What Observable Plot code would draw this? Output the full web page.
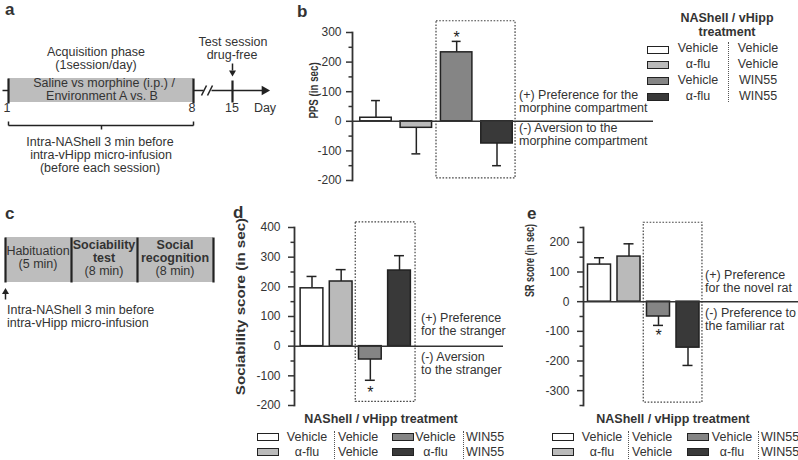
<!DOCTYPE html>
<html><head><meta charset="utf-8">
<script src="https://cdn.jsdelivr.net/npm/d3@7"></script>
<script src="https://cdn.jsdelivr.net/npm/@observablehq/plot@0.6"></script>
<style>
html,body{margin:0;padding:0;background:#fff;}
#fig{position:relative;width:798px;height:460px;overflow:hidden;font-family:"Liberation Sans",Arial,Helvetica,sans-serif;color:#333;}
#fig .t{position:absolute;white-space:nowrap;line-height:1;}
#fig .p{position:absolute;}
#fig .sw{position:absolute;box-sizing:border-box;border:1.5px solid #222;}
#fig .sep{position:absolute;width:0;border-left:1.3px dotted #555;}
</style></head><body><div id="fig"></div>
<script>
// ---------- data ----------
const nashell = ["Vehicle", "α-flu", "Vehicle", "α-flu"];
const vhipp = ["Vehicle", "Vehicle", "WIN55", "WIN55"];
const groupFill = ["#ffffff", "#bababa", "#858585", "#393939"];

// b: place preference score (PPS, sec)
const ppsMean = [12, -22, 233, -75];
const ppsErr = [70, -110, 270, -150];
const ppsSig = [false, false, true, false];
const ppsTicks = [-200, -100, 0, 100, 200, 300];

// d: sociability score (sec)
const socMean = [195, 218, -45, 255];
const socErr = [235, 258, -115, 305];
const socSig = [false, false, true, false];
const socTicks = [-200, -100, 0, 100, 200, 300, 400];

// e: social recognition score (sec)
const srMean = [125, 152, -50, -155];
const srErr = [148, 195, -80, -215];
const srSig = [false, false, true, false];
const srTicks = [-300, -200, -100, 0, 100, 200];

const FONT = '"Liberation Sans", Arial, Helvetica, sans-serif';
const fig = document.getElementById("fig");

function T(x, base, str, o = {}) {
  const s = o.s || 12.5;
  const el = document.createElement("div");
  el.className = "t";
  el.textContent = str;
  el.style.fontSize = s + "px";
  el.style.fontWeight = o.w || "normal";
  el.style.left = x + "px";
  el.style.top = (base - 0.847 * s) + "px";
  if (o.a === "middle") el.style.transform = "translateX(-50%)";
  else if (o.a === "end") el.style.transform = "translateX(-100%)";
  fig.appendChild(el);
}
function place(node, left, top) {
  node.classList.add("p");
  node.style.left = left + "px";
  node.style.top = top + "px";
  fig.appendChild(node);
}
function div(cls, left, top, w, h, bg) {
  const el = document.createElement("div");
  el.className = cls;
  el.style.left = left + "px"; el.style.top = top + "px";
  if (w != null) el.style.width = w + "px";
  el.style.height = h + "px";
  if (bg) el.style.background = bg;
  fig.appendChild(el);
}

// ---------- bar charts ----------
function barChart(o) {
  const data = o.mean.map((m, k) => ({k: k + 1, m, e: o.err[k], fill: groupFill[k], sig: o.sig[k]}));
  const minor = d3.range(o.yd[0], o.yd[1] + 1, 50).filter(v => v % 100 !== 0);
  const hw = 0.39;
  const svg = Plot.plot({
    width: o.width, height: o.height,
    marginLeft: o.ml, marginRight: 0, marginTop: o.mt, marginBottom: o.mb,
    x: {domain: [1, 4], range: o.xr, axis: null},
    y: {domain: o.yd},
    color: {type: "identity"},
    style: {fontFamily: FONT, fontSize: "12px", color: "#333", background: "transparent", overflow: "visible"},
    marks: [
      Plot.rect([o.box], {x1: "x1", x2: "x2", y1: "y1", y2: "y2", fill: "none", stroke: "#444", strokeWidth: 1.2, strokeDasharray: "1.6,1.6"}),
      Plot.axisY({ticks: minor, tickSize: 3.5, tickFormat: () => "", label: null, strokeWidth: 1.5}),
      Plot.axisY({ticks: o.ticks, tickSize: 6, tickPadding: o.pad, tickFormat: d => String(d), label: null, strokeWidth: 1.5, fontSize: 12}),
      Plot.frame({anchor: "left", stroke: "#333", strokeWidth: 1.8}),
      Plot.ruleX(data, {x: "k", y1: "m", y2: "e", stroke: "#222", strokeWidth: 1.5}),
      Plot.ruleY(data, {y: "e", x1: d => d.k - o.cap, x2: d => d.k + o.cap, stroke: "#222", strokeWidth: 1.5}),
      Plot.rect(data, {x1: d => d.k - hw, x2: d => d.k + hw, y1: 0, y2: "m", fill: "fill", stroke: "#222", strokeWidth: 1.5}),
      Plot.ruleY([0], {stroke: "#333", strokeWidth: 1.5}),
      Plot.text(data.filter(d => d.sig && d.e > 0), {x: "k", y: "e", text: () => "*", dy: -4, fontSize: 16, fill: "#222"}),
      Plot.text(data.filter(d => d.sig && d.e < 0), {x: "k", y: "e", text: () => "*", dy: o.sdy, fontSize: 16, fill: "#222"}),
      Plot.text([o.label], {text: d => d, frameAnchor: "left", textAnchor: "middle", rotate: -90, dx: o.ldx, dy: o.ldy, fontWeight: "bold", fontSize: o.lfs, fill: "#333"})
    ]
  });
  // stretch / condense the rotated axis title along its length to match the source panel proportions
  svg.querySelectorAll("text").forEach(t => {
    if (t.textContent === o.label) {
      const tr = t.getAttribute("transform") || "";
      t.setAttribute("transform", tr + ` scale(${o.lsx},1)`);
    }
  });
  return svg;
}

place(barChart({mean: ppsMean, err: ppsErr, sig: ppsSig, ticks: ppsTicks, yd: [-200, 300],
  width: 373, height: 200, ml: 72, mt: 32, mb: 20, xr: [95.5, 216.5], pad: 5, cap: 0.11, sdy: 12,
  box: {x1: 2.5, x2: 4.46, y1: -193, y2: 338},
  label: "PPS (in sec)", ldx: -39, ldy: -16, lfs: 12.5, lsx: 0.78}), 280, 0);

place(barChart({mean: socMean, err: socErr, sig: socSig, ticks: socTicks, yd: [-200, 400],
  width: 278, height: 215, ml: 69, mt: 27, mb: 10, xr: [86.5, 174], pad: 8, cap: 0.17, sdy: 13,
  box: {x1: 2.5, x2: 4.55, y1: -188, y2: 417},
  label: "Sociability score (in sec)", ldx: -54, ldy: -10, lfs: 13.5, lsx: 1.12}), 225, 200);

place(barChart({mean: srMean, err: srErr, sig: srSig, ticks: srTicks, yd: [-350, 250],
  width: 283, height: 215, ml: 68, mt: 27, mb: 10, xr: [84, 172.5], pad: 8, cap: 0.17, sdy: 10,
  box: {x1: 2.5, x2: 4.49, y1: -340, y2: 266},
  label: "SR score (in sec)", ldx: -54, ldy: -56, lfs: 12.5, lsx: 0.72}), 515, 200);

// ---------- schematics (a, c) ----------
const aRects = [{x1: 8, x2: 193, y1: 78, y2: 102, fill: "#bdbdbd"}];
const aLines = [
  {x1: 2, y1: 90, x2: 8, y2: 90}, {x1: 193, y1: 90, x2: 203, y2: 90}, {x1: 211, y1: 90, x2: 262, y2: 90},
  {x1: 201, y1: 95, x2: 206, y2: 85}, {x1: 207, y1: 95, x2: 212, y2: 85},
  {x1: 232, y1: 63, x2: 232, y2: 70},
  {x1: 8, y1: 125, x2: 193, y2: 125}, {x1: 8, y1: 121, x2: 8, y2: 125}, {x1: 193, y1: 121, x2: 193, y2: 125},
  {x1: 101, y1: 125, x2: 101, y2: 129}
];
const aThick = [{x1: 8, y1: 78, x2: 8, y2: 103}, {x1: 193, y1: 78, x2: 193, y2: 103}, {x1: 232, y1: 80, x2: 232, y2: 102}];
const aHeads = [{x: 264, y: 90, rot: 90, r: 3.6}, {x: 232, y: 72, rot: 180, r: 2.6}];

const cRects = [{x1: 5, x2: 213, y1: 237, y2: 282, fill: "#bdbdbd"}];
const cLines = [{x1: 5, y1: 292, x2: 5, y2: 299}];
const cThick = [71, 137, 5, 213].map(x => ({x1: x, y1: 237, x2: x, y2: 282}));
const cHeads = [{x: 5, y: 291.5, rot: 0, r: 2.6}];

function schematic(o) {
  return Plot.plot({
    width: o.w, height: o.h, margin: 0,
    x: {domain: [o.left, o.left + o.w], range: [0, o.w], axis: null},
    y: {domain: [o.top, o.top + o.h], range: [0, o.h], axis: null},
    r: {type: "identity"}, color: {type: "identity"},
    style: {background: "transparent", overflow: "visible"},
    marks: [
      Plot.rect(o.rects, {x1: "x1", x2: "x2", y1: "y1", y2: "y2", fill: "fill"}),
      Plot.link(o.lines, {x1: "x1", y1: "y1", x2: "x2", y2: "y2", stroke: "#222", strokeWidth: 1.5}),
      Plot.link(o.thick, {x1: "x1", y1: "y1", x2: "x2", y2: "y2", stroke: "#222", strokeWidth: 2.2}),
      Plot.dot(o.heads, {x: "x", y: "y", r: "r", rotate: "rot", symbol: "triangle", fill: "#222", stroke: "none"})
    ]
  });
}
place(schematic({left: 0, top: 0, w: 280, h: 180, rects: aRects, lines: aLines, thick: aThick, heads: aHeads}), 0, 0);
place(schematic({left: 0, top: 225, w: 225, h: 85, rects: cRects, lines: cLines, thick: cThick, heads: cHeads}), 0, 225);

// ---------- panel letters ----------
T(5, 15, "a", {s: 17, w: "bold"});
T(297, 17, "b", {s: 17, w: "bold"});
T(5, 219, "c", {s: 17, w: "bold"});
T(233, 218, "d", {s: 17, w: "bold"});
T(527, 219, "e", {s: 17, w: "bold"});

// ---------- panel a text ----------
T(96, 57, "Acquisition phase", {a: "middle"});
T(96, 70, "(1session/day)", {a: "middle"});
T(104, 88, "Saline vs morphine (i.p.) /", {a: "middle"});
T(102, 101, "Environment A vs. B", {a: "middle"});
T(233, 47, "Test session", {a: "middle"});
T(232, 60, "drug-free", {a: "middle"});
T(7, 113, "1", {a: "middle"});
T(192, 113, "8", {a: "middle"});
T(232, 113, "15", {a: "middle"});
T(265, 113, "Day", {a: "middle"});
T(100, 147, "Intra-NAShell 3 min before", {a: "middle"});
T(101, 160, "intra-vHipp micro-infusion", {a: "middle"});
T(100, 173, "(before each session)", {a: "middle"});

// ---------- panel c text ----------
T(38, 256, "Habituation", {a: "middle"});
T(38, 269, "(5 min)", {a: "middle"});
T(104, 250, "Sociability", {a: "middle", w: "bold"});
T(104, 263, "test", {a: "middle", w: "bold"});
T(104, 276, "(8 min)", {a: "middle"});
T(175, 250, "Social", {a: "middle", w: "bold"});
T(175, 263, "recognition", {a: "middle", w: "bold"});
T(175, 276, "(8 min)", {a: "middle"});
T(7, 315, "Intra-NAShell 3 min before");
T(7, 328, "intra-vHipp micro-infusion");

// ---------- annotations ----------
T(519, 100, "(+) Preference for the");
T(519, 113, "morphine compartment");
T(519, 133, "(-) Aversion to the");
T(519, 146, "morphine compartment");
T(421, 323, "(+) Preference");
T(421, 336, "for the stranger");
T(421, 362, "(-) Aversion");
T(421, 375, "to the stranger");
T(705, 280, "(+) Preference");
T(705, 293, "for the novel rat");
T(705, 318, "(-) Preference to");
T(705, 331, "the familiar rat");

// ---------- legends ----------
// b: vertical legend
T(727, 23, "NAShell / vHipp", {a: "middle", w: "bold"});
T(727, 37, "treatment", {a: "middle", w: "bold"});
nashell.forEach((n, k) => {
  const base = 53 + k * 15.7;
  div("sw", 647, base - 7.5, 22, 8, groupFill[k]);
  T(698, base, n, {a: "middle"});
  T(758, base, vhipp[k], {a: "middle"});
});
div("sep", 728, 42, null, 60);

// d & e: two-column legends
function legend2(titleX, sw, t1, sep, t2) {
  T(titleX, 424, "NAShell / vHipp treatment", {a: "middle", w: "bold"});
  nashell.forEach((n, k) => {
    const col = Math.floor(k / 2), row = k % 2;
    const base = 442 + row * 15;
    div("sw", sw[col], base - 9.5, 22, 8.5, groupFill[k]);
    T(t1[col], base, n, {a: "middle"});
    T(t2[col], base, vhipp[k]);
  });
  sep.forEach(x => div("sep", x, 431, null, 28));
}
legend2(381, [257, 392], [307, 435.5], [334, 463], [338, 466]);
legend2(673, [552, 687], [602, 732], [628, 758], [632, 761]);
</script>
</body></html>
